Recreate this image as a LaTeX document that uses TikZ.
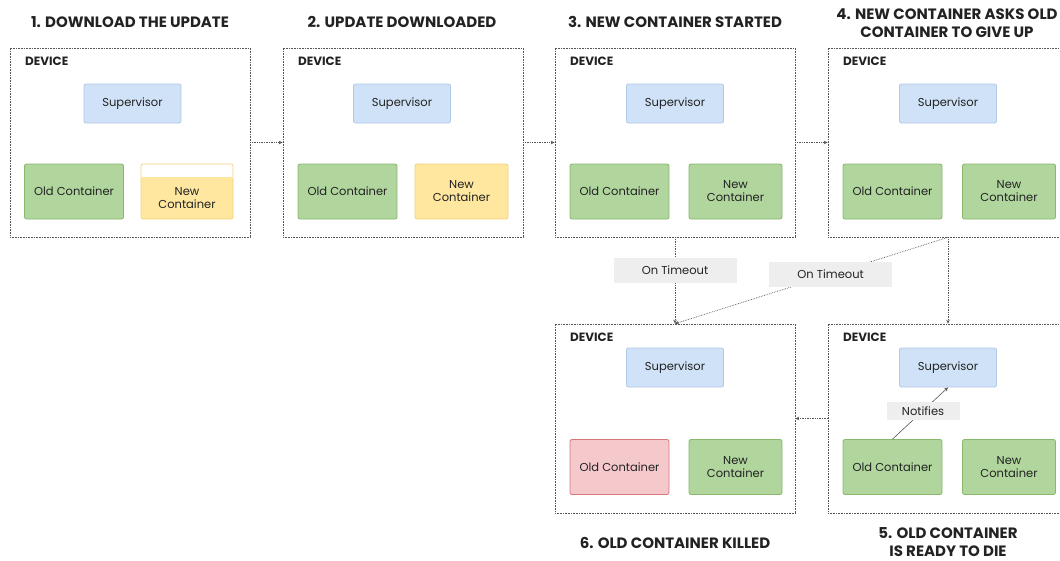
\documentclass[tikz,border=0pt]{standalone}
\usepackage{fontspec}
\setmainfont{Poppins}
\usetikzlibrary{arrows.meta}
\definecolor{blueF}{HTML}{D0E2F7}
\definecolor{blueD}{HTML}{AFC8E8}
\definecolor{greenF}{HTML}{B0D69E}
\definecolor{greenD}{HTML}{87B86C}
\definecolor{yellowF}{HTML}{FFE7A0}
\definecolor{yellowD}{HTML}{F2D27A}
\definecolor{redF}{HTML}{F5C9CB}
\definecolor{redD}{HTML}{D9787C}
\definecolor{lblF}{HTML}{EEEEEE}
\definecolor{conC}{HTML}{555555}
\definecolor{txtC}{HTML}{222222}
\tikzset{
  device/.style={draw=conC, densely dotted, line width=0.6pt, minimum width=240pt, minimum height=189pt, inner sep=0pt},
  devlabel/.style={anchor=west, text=txtC, font=\fontsize{12}{13}\selectfont\bfseries, inner sep=0pt},
  comp/.style={rounded corners=2pt, line width=0.8pt, align=center, text=txtC, font=\fontsize{11.5}{13}\selectfont, inner sep=0pt},
  sup/.style={comp, fill=blueF, draw=blueD, minimum width=97pt, minimum height=39pt},
  oldc/.style={comp, fill=greenF, draw=greenD, minimum width=99pt, minimum height=55pt},
  newc/.style={comp, fill=greenF, draw=greenD, minimum width=93pt, minimum height=55pt},
  title/.style={align=center, text=txtC, font=\fontsize{15}{18}\selectfont\bfseries, inner sep=0pt},
  conn/.style={draw=conC, densely dotted, line width=0.7pt, -{Stealth[length=4pt,width=3.5pt]}},
  lbl/.style={fill=lblF, text=txtC, font=\fontsize{11.5}{13}\selectfont, inner sep=0pt, solid}
}
\begin{document}
\begin{tikzpicture}[x=1pt,y=-1pt]
\useasboundingbox (0,0) rectangle (1060,560);
% titles
\node[title] (t1) at (130,22) {1. DOWNLOAD THE UPDATE};
\node[title] (t2) at (402,22) {2. UPDATE DOWNLOADED};
\node[title] (t3) at (675,22) {3. NEW CONTAINER STARTED};
\node[title] (t4) at (947,23) {4. NEW CONTAINER ASKS OLD\\CONTAINER TO GIVE UP};
\node[title] (t6) at (675,543) {6. OLD CONTAINER KILLED};
\node[title] (t5) at (948,542) {5. OLD CONTAINER\\IS READY TO DIE};
% devices
\node[device] (d1) at (130,142.5) {};
\node[device] (d2) at (403,142.5) {};
\node[device] (d3) at (675,142.5) {};
\node[device] (d4) at (948,142.5) {};
\node[device] (d6) at (675,418.5) {};
\node[device] (d5) at (948,418.5) {};
% device labels
\node[devlabel] (l1) at (25,61) {DEVICE};
\node[devlabel] (l2) at (298,61) {DEVICE};
\node[devlabel] (l3) at (570,61) {DEVICE};
\node[devlabel] (l4) at (843,61) {DEVICE};
\node[devlabel] (l6) at (570,337) {DEVICE};
\node[devlabel] (l5) at (843,337) {DEVICE};
% device 1
\node[sup] (s1) at (132.5,103.5) {Supervisor};
\node[oldc] (o1) at (74,191.5) {Old Container};
\fill[yellowF, rounded corners=2pt] (141,177) rectangle (233,219);
\node[comp, draw=yellowD, minimum width=92pt, minimum height=55pt] (n1) at (187,191.5) {};
\node[comp] (n1t) at (187,198) {New\\Container};
% device 2
\node[sup] (s2) at (402,103.5) {Supervisor};
\node[oldc] (o2) at (347.5,191.5) {Old Container};
\node[comp, fill=yellowF, draw=yellowD, minimum width=93pt, minimum height=55pt] (n2) at (461.5,191.5) {New\\Container};
% device 3
\node[sup] (s3) at (675,103.5) {Supervisor};
\node[oldc] (o3) at (619.5,191.5) {Old Container};
\node[newc] (n3) at (735.5,191.5) {New\\Container};
% device 4
\node[sup] (s4) at (948,103.5) {Supervisor};
\node[oldc] (o4) at (892.5,191.5) {Old Container};
\node[newc] (n4) at (1009,191.5) {New\\Container};
% device 6
\node[sup] (s6) at (675,367.5) {Supervisor};
\node[oldc, fill=redF, draw=redD] (o6) at (619.5,467) {Old Container};
\node[newc] (n6) at (735.5,467) {New\\Container};
% device 5
\node[sup] (s5) at (948,367.5) {Supervisor};
\node[oldc] (o5) at (892.5,467) {Old Container};
\node[newc] (n5) at (1009,467) {New\\Container};
% connectors
\draw[conn] (d1.east) -- (d2.west);
\draw[conn] (d2.east) -- (d3.west);
\draw[conn] (d3.east) -- (d4.west);
\draw[conn] (d3.south) -- (d6.north) node[lbl, pos=0.385, minimum width=123pt, minimum height=25pt] (to1) {On Timeout};
\draw[conn] (d4.south) -- (d6.north) node[lbl, pos=0.43, minimum width=123pt, minimum height=25pt] (to2) {On Timeout};
\draw[conn] (d4.south) -- (d5.north);
\draw[conn] (d5.west) -- (d6.east);
\draw[draw=conC, line width=0.6pt, -{Stealth[length=4pt,width=3.5pt]}] (o5.north) -- (s5.south) node[lbl, pos=0.55, minimum width=73pt, minimum height=18pt] (nt) {Notifies};
\end{tikzpicture}
\end{document}
